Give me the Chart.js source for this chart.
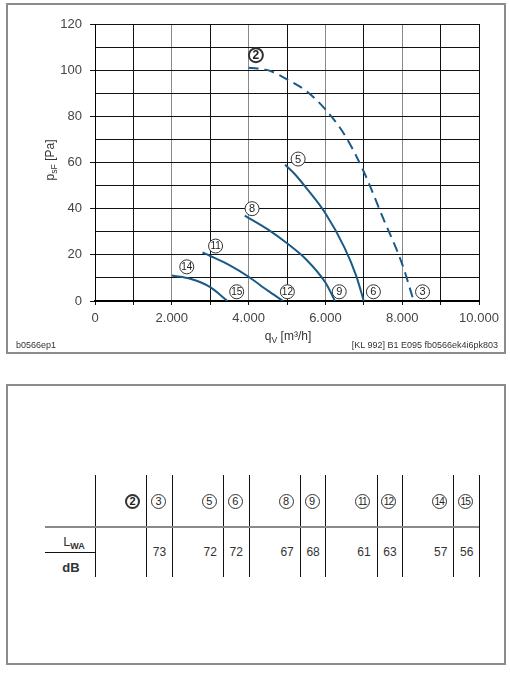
<!DOCTYPE html>
<html>
<head>
<meta charset="utf-8">
<script src="https://cdn.jsdelivr.net/npm/chart.js@4.4.1/dist/chart.umd.min.js"></script>
<style>
  body { margin: 0; background: #fff; font-family: "Liberation Sans", Arial, sans-serif; color: #333; }
  #page { position: relative; width: 510px; height: 680px; overflow: hidden; }
  .box { position: absolute; box-sizing: border-box; border: 2px solid #8c8c8c; }
  #chart-wrap { position: absolute; left: 0; top: 0; width: 510px; height: 360px; }
  .txt { position: absolute; white-space: nowrap; line-height: 1; }
  .txt sub { font-size: 0.72em; vertical-align: -0.3em; line-height: 0; }
  .vline { position: absolute; width: 1px; background: #111; }
  .hline { position: absolute; height: 1px; background: #111; }
  .circ { position: absolute; box-sizing: border-box; width: 15px; height: 15px; margin: -7.5px 0 0 -7.5px;
          border: 1px solid #333; border-radius: 50%; font-size: 11px; line-height: 13px; text-align: center; color: #222; }
  .circ.two { font-size: 10px; letter-spacing: -0.8px; text-indent: -0.8px; }
  .circ.bold { border-width: 2px; font-weight: bold; line-height: 11px; }
  .val { position: absolute; font-size: 12px; transform: translate(-50%, -50%); color: #333; }
</style>
</head>
<body>
<div id="page">
  <div class="box" style="left:6px; top:3px; width:500px; height:351px;"></div>
  <div id="chart-wrap"><canvas id="chart" width="510" height="360"></canvas></div>
  <div class="txt" style="left:188px; width:200px; top:330px; text-align:center; font-size:12px;">q<sub>V</sub> [m³/h]</div>
  <div class="txt" style="left:10px; width:80px; top:154px; text-align:center; font-size:12px; transform:rotate(-90deg);">p<sub>sF</sub> [Pa]</div>
  <div class="txt" style="left:16px; top:341px; font-size:9px;">b0566ep1</div>
  <div class="txt" style="right:12px; top:341px; font-size:9px;">[KL 992] B1 E095 fb0566ek4i6pk803</div>

  <div class="box" style="left:6px; top:384px; width:500px; height:281px;"></div>
  <div id="table"></div>
</div>
<script>
// fan curves, static pressure over air flow
const curve2X = [4000, 4500, 5000, 5500, 6000, 6500, 7000, 7500, 8000, 8300];
const curve2Y = [101, 100, 96, 91, 83, 72, 56, 36, 16, 0];
const curve5X = [4950, 5200, 5500, 6000, 6500, 6800, 7000];
const curve5Y = [59, 55, 49, 38, 23, 11, 0];
const curve8X = [3900, 4500, 5000, 5500, 6000, 6250];
const curve8Y = [37, 31, 25, 18, 8, 0];
const curve11X = [2800, 3000, 3500, 4000, 4500, 4900];
const curve11Y = [21, 19.5, 15.5, 10.5, 4.5, 0];
const curve14X = [2000, 2500, 3000, 3450];
const curve14Y = [11, 9.5, 6, 0];

// circled operating point markers
const markNames = ['2', '5', '8', '11', '14', '15', '12', '9', '6', '3'];
const markX = [4190, 5290, 4090, 3140, 2390, 3690, 5010, 6360, 7250, 8530];
const markY = [106.5, 61.5, 40, 23.8, 14.8, 4, 4, 4, 4, 4];

// sound power table
const soundNames = ['2', '3', '5', '6', '8', '9', '11', '12', '14', '15'];
const soundLevels = [null, 73, 72, 72, 67, 68, 61, 63, 57, 56];

const blue = '#1b5a86';

function curve(xs, ys, dashed) {
  return {
    type: 'line',
    data: xs.map((x, i) => ({ x: x, y: ys[i] })),
    borderColor: blue,
    borderWidth: 2,
    borderDash: dashed ? [10, 6] : [],
    pointRadius: 0,
    cubicInterpolationMode: 'monotone',
    fill: false,
    order: 1
  };
}

const markLabels = {
  id: 'markLabels',
  afterDatasetsDraw(chart) {
    const ctx = chart.ctx;
    const meta = chart.getDatasetMeta(5);
    ctx.save();
    ctx.textAlign = 'center';
    ctx.textBaseline = 'middle';
    ctx.fillStyle = '#222';
    meta.data.forEach((pt, i) => {
      const n = markNames[i];
      ctx.font = (n === '2' ? 'bold 12px' : (n.length > 1 ? '10px' : '11px')) + ' "Liberation Sans", Arial, sans-serif';
      ctx.fillText(n, pt.x, pt.y + 0.5);
    });
    ctx.restore();
  }
};

const tickFont = { family: '"Liberation Sans", Arial, sans-serif', size: 13 };

new Chart(document.getElementById('chart'), {
  type: 'line',
  data: {
    datasets: [
      curve(curve2X, curve2Y, true),
      curve(curve5X, curve5Y),
      curve(curve8X, curve8Y),
      curve(curve11X, curve11Y),
      curve(curve14X, curve14Y),
      {
        type: 'scatter',
        data: markX.map((x, i) => ({ x: x, y: markY[i] })),
        pointRadius: 7,
        pointBackgroundColor: '#fff',
        pointBorderColor: '#333',
        pointBorderWidth: ctx => markNames[ctx.dataIndex] === '2' ? 2 : 1,
        clip: false,
        order: 0
      }
    ]
  },
  options: {
    responsive: false,
    animation: false,
    layout: { padding: { left: 0, top: 24, right: 31, bottom: 0 } },
    plugins: { legend: { display: false }, tooltip: { enabled: false } },
    scales: {
      x: {
        type: 'linear', min: 0, max: 10000,
        afterFit: s => { s.height = 59; },
        ticks: {
          stepSize: 1000, autoSkip: false, maxRotation: 0, padding: 6,
          color: '#444', font: tickFont,
          callback: v => v === 0 ? '0' : (v % 2000 === 0 ? (v / 1000) + '.000' : '')
        },
        grid: {
          color: c => (c.tick && c.tick.value % 2000 === 0 && c.tick.value !== 0 && c.tick.value !== 10000) ? '#8a8a8a' : '#111',
          tickColor: '#111', tickLength: 4, lineWidth: 1
        },
        border: { color: '#000', width: 2 }
      },
      y: {
        type: 'linear', min: 0, max: 120,
        afterFit: s => { s.width = 95; },
        ticks: {
          stepSize: 10, autoSkip: false, padding: 8,
          color: '#444', font: tickFont,
          callback: v => v % 20 === 0 ? String(v) : ''
        },
        grid: {
          color: '#111',
          tickColor: c => (c.tick && c.tick.value % 20 === 0) ? '#111' : 'rgba(0,0,0,0)',
          tickLength: 5, lineWidth: 1
        },
        border: { color: '#000', width: 1 }
      }
    }
  },
  plugins: [markLabels]
});

// table below the chart
const table = document.getElementById('table');
function add(cls, style, html) {
  const d = document.createElement('div');
  d.className = cls;
  d.style.cssText = style;
  if (html !== undefined) d.innerHTML = html;
  table.appendChild(d);
}
const colLeft = 95, groupW = 76.8, wideW = 51.2;
for (let g = 0; g < 5; g++) {
  const x0 = colLeft + g * groupW;
  add('vline', `left:${Math.round(x0)}px; top:475px; height:102px;`);
  add('vline', `left:${Math.round(x0 + wideW)}px; top:475px; height:102px;`);
}
add('vline', `left:${Math.round(colLeft + 5 * groupW)}px; top:475px; height:102px;`);
add('hline', 'left:45px; top:526px; width:434px; height:2px; background:#8a8a8a;');
add('hline', 'left:45px; top:552px; width:50px;');
add('txt', 'left:45px; width:58px; top:535px; text-align:center; font-size:13px;', 'L<sub style="font-weight:bold;font-size:9px;">WA</sub>');
add('txt', 'left:45px; width:52px; top:561px; text-align:center; font-size:13px; font-weight:bold;', 'dB');
soundNames.forEach((n, i) => {
  const g = Math.floor(i / 2);
  const cx = colLeft + g * groupW + (i % 2 === 0 ? 37.5 : 63.5);
  const cls = 'circ' + (n === '2' ? ' bold' : '') + (n.length > 1 ? ' two' : '');
  add(cls, `left:${cx}px; top:501px;`, n);
  if (soundLevels[i] !== null) add('val', `left:${cx + 1}px; top:552px;`, String(soundLevels[i]));
});
</script>
</body>
</html>
